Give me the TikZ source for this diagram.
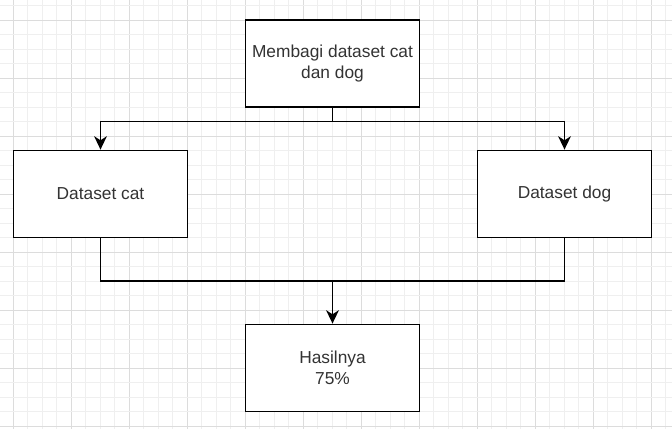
\documentclass[tikz,border=0pt]{standalone}
\usepackage{fontspec}
\setmainfont{Liberation Sans}
\usepackage{tikz}
\usepackage{xcolor}
\usetikzlibrary{arrows.meta,positioning,calc}
\definecolor{gridminor}{RGB}{239,239,239}
\definecolor{gridmajor}{RGB}{220,220,220}
\definecolor{inkgray}{RGB}{51,51,51}

\begin{document}
\begin{tikzpicture}[x=0.75pt, y=-0.75pt,
  box/.style={draw, line width=1.35pt, fill=white, minimum width=130.5pt, minimum height=65.25pt,
    align=center, text=inkgray, font=\fontsize{13}{15.6}\selectfont},
  flow/.style={line width=1.35pt, -{Stealth[length=10pt, width=9.5pt, inset=3pt]}},
  link/.style={line width=1.35pt}]
\useasboundingbox (0,0) rectangle (672,429);
% Background grid
\foreach \i in {-1,...,46} {
  \pgfmathtruncatemacro{\m}{mod(\i+4,4)}
  \ifnum\m=0 \def\gc{gridmajor}\else \def\gc{gridminor}\fi
  \draw[\gc, line width=0.6pt] ({13.3+\i*14.5},0) -- ({13.3+\i*14.5},429);
}
\foreach \j in {-1,...,29} {
  \pgfmathtruncatemacro{\m}{mod(\j+4,4)}
  \ifnum\m=0 \def\gc{gridmajor}\else \def\gc{gridminor}\fi
  \draw[\gc, line width=0.6pt] (0,{20+\j*14.5}) -- (672,{20+\j*14.5});
}

% Steps
\node[box] (split) at (332.5,63.5) {Membagi dataset cat\\dan dog};
\node[box] (cat) at (100.5,194) {Dataset cat};
\node[box] (dog) at (564.5,194) {Dataset dog};
\node[box] (hasil) at (332.5,368) {Hasilnya\\75\%};

% Split into two datasets
\coordinate (fork) at (332.5,121.5);
\draw[link] (split.south) -- (fork);
\draw[flow] (fork) -| (cat.north);
\draw[flow] (fork) -| (dog.north);

% Merge into result
\coordinate (join) at (332.5,281);
\draw[link] (cat.south) |- (join);
\draw[link] (dog.south) |- (join);
\draw[flow] (join) -- (hasil.north);
\end{tikzpicture}
\end{document}
